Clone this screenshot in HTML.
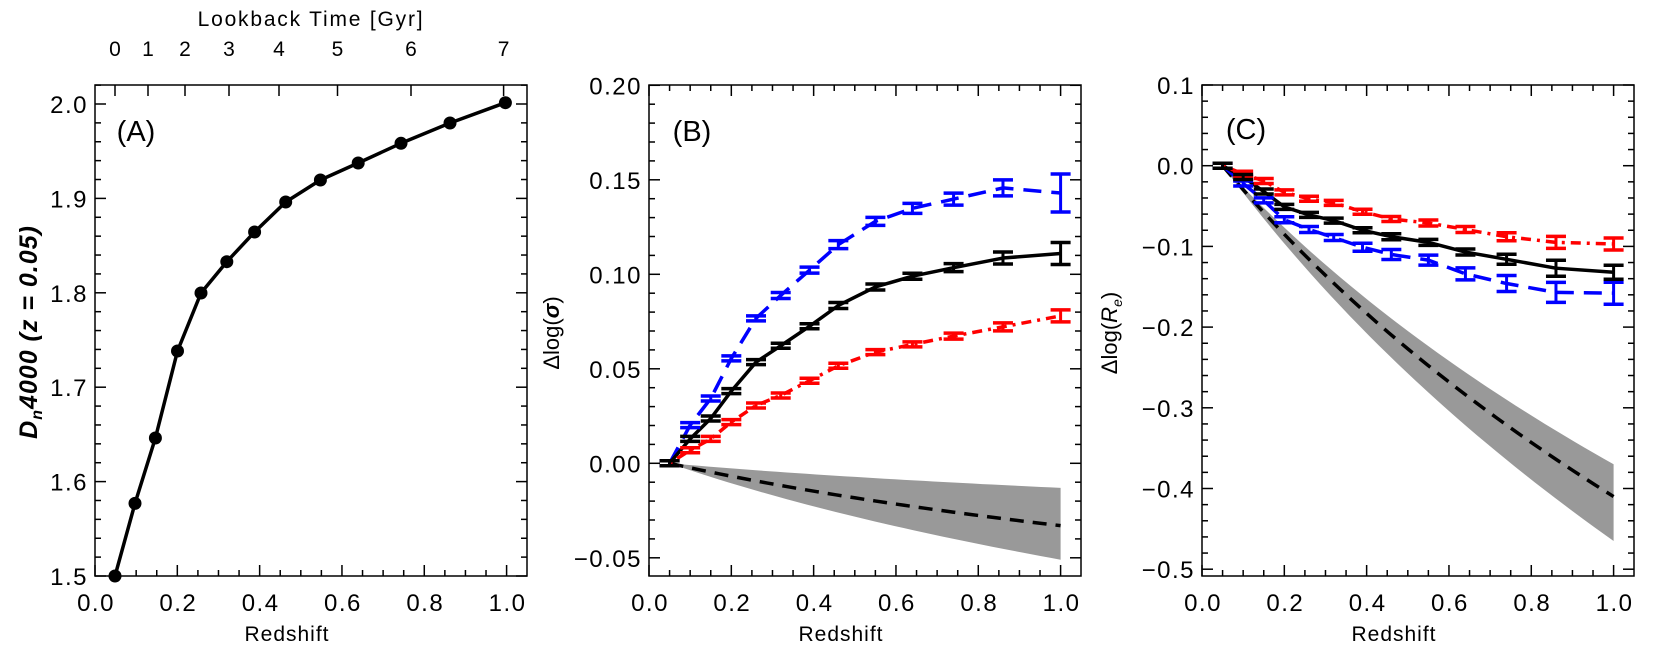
<!DOCTYPE html>
<html><head><meta charset="utf-8"><style>
html,body{margin:0;padding:0;background:#fff;}
svg{display:block;}
text{font-family:"Liberation Sans",sans-serif;fill:#000;}
</style></head><body>
<svg id="s" width="1661" height="663" viewBox="0 0 1661 663" xmlns="http://www.w3.org/2000/svg"></svg>
<script>
(function(){
const S=document.getElementById('s');let h='';
function L(x1,y1,x2,y2,c,w,extra){h+=`<line x1="${x1}" y1="${y1}" x2="${x2}" y2="${y2}" stroke="${c||'#000'}" stroke-width="${w||1.5}" ${extra||''}/>`;}
function T(x,y,t,sz,anch,extra){h+=`<text x="${x}" y="${y}" font-size="${sz}" text-anchor="${anch||'middle'}" ${extra||''}>${t}</text>`;}
const TOP=85,BOT=576;
const LS='letter-spacing="1.5"';
function frame(L0,R0,ymap,ymin,ymax,maj,minr,fmt,top2){
  h+=`<rect x="${L0}" y="${TOP}" width="${R0-L0}" height="${BOT-TOP}" fill="none" stroke="#000" stroke-width="1.5"/>`;
  const xm=z=>L0+z*411.6;
  for(let i=0;i<=21;i++){const z=i*0.05;const x=xm(z);if(x>R0)break;const mj=(i%4==0);
    L(x,BOT,x,BOT-(mj?11:6));if(!top2)L(x,TOP,x,TOP+(mj?11:6));
    if(mj)T(x+1,611,(z).toFixed(1),24,'middle',LS);}
  const k0=Math.ceil(ymin/minr-1e-6),k1=Math.floor(ymax/minr+1e-6),r=Math.round(maj/minr);
  for(let k=k0;k<=k1;k++){const v=k*minr;const y=ymap(v);if(y<TOP-0.5||y>BOT+0.5)continue;
    const mj=(((k%r)+r)%r)==0;
    L(L0,y,L0+(mj?11:6),y);L(R0,y,R0-(mj?11:6),y);
    if(mj)T(L0-7,y+9,fmt(Math.round(v/maj)*maj),24,'end',LS);}
  T((L0+R0)/2-24,641,'Redshift',21,'middle','letter-spacing="1"');
}
function poly(pts,c,w,dash){h+=`<polyline points="${pts.map(p=>p.join(',')).join(' ')}" fill="none" stroke="${c}" stroke-width="${w}" stroke-linejoin="round" ${dash?`stroke-dasharray="${dash}"`:''}/>`;}
function errs(pts,es,c){pts.forEach((p,i)=>{const e=Math.max(es[i],2.5);L(p[0],p[1]-e,p[0],p[1]+e,c,3);L(p[0]-10,p[1]-e,p[0]+10,p[1]-e,c,3.5);L(p[0]-10,p[1]+e,p[0]+10,p[1]+e,c,3.5);});}
const zs=[0.05,0.1,0.15,0.2,0.26,0.32,0.39,0.46,0.55,0.64,0.74,0.86,1.0];
// Panel A
const AL=95,AR=527;const yA=v=>104+(2.0-v)*944;
frame(AL,AR,yA,1.5,2.04,0.1,0.02,v=>v.toFixed(1),true);
const lb=[[0,115],[1,148],[2,185],[3,229],[4,279],[5,337.5],[6,411],[7,503.6]];
lb.forEach(([t,x])=>{L(x,TOP,x,TOP+11);T(x,56,t,21);});
T(311,26,'Lookback Time [Gyr]',21,'middle','letter-spacing="1.8"');
const A=[[115,576],[135,503.4],[155.4,438],[177.5,351],[201,293],[226.8,261.7],[254.6,232],[285.7,202],[320.4,180],[358.2,163],[401,143.3],[450,123],[505.4,102.7]];
poly(A,'#000',3.5);A.forEach(p=>h+=`<circle cx="${p[0]}" cy="${p[1]}" r="6.5" fill="#000"/>`);
T(136,141,'(A)',29);
h+=`<text transform="translate(37,332) rotate(-90)" font-size="25" text-anchor="middle" font-style="italic" font-weight="bold" letter-spacing="1">D<tspan font-size="16" dy="5">n</tspan><tspan dy="-5">4000 (z = 0.05)</tspan></text>`;
// Panel B
const BL=649,BR=1081;const yB=v=>463.3-v*1890;const xB=z=>BL+z*411.6;
function mfun(z){return Math.log10(1+z)-Math.log10(1.05);}
const mf1=mfun(1);
function band(xm,ym,up,lo,mid){let U=[],D=[],M=[];for(let i=0;i<=40;i++){const z=0.05+0.95*i/40;const f=mfun(z)/mf1;U.push([xm(z),ym(up*f)]);D.push([xm(z),ym(lo*f)]);M.push([xm(z),ym(mid*f)]);}
 h+=`<polygon points="${U.concat(D.reverse()).map(p=>p.join(',')).join(' ')}" fill="#999"/>`;poly(M,'#000',3.5,'14 9');}
band(xB,yB,-0.013,-0.051,-0.033);
const Bk=[0,.0129,.0237,.0382,.0535,.0622,.0725,.0835,.0933,.099,.1035,.1086,.111];
const Bb=[0,.0202,.0343,.0555,.0767,.0888,.1022,.1157,.128,.1349,.1398,.1457,.143];
const Br=[0,.0069,.0129,.0218,.0306,.0359,.0437,.0516,.0588,.0629,.0673,.0722,.078];
const P=(arr,xm,ym)=>arr.map((v,i)=>[xm(zs[i]),ym(v)]);
let pb=P(Bb,xB,yB),pk=P(Bk,xB,yB),pr=P(Br,xB,yB);
poly(pb,'#0000ff',3.5,'18 10');poly(pk,'#000',3.5);poly(pr,'#ff0000',3.5,'3 6 10 6');
errs(pr,[2,2,2,2,2,2,2,2,2,2,3,4,6],'#ff0000');
errs(pb,[2,2,2,2,2,3,3,4,4,5,6,8,19],'#0000ff');
errs(pk,[2,2,2,2,2,2,2,3,3,3,4,6,11],'#000');
frame(BL,BR,yB,-0.06,0.2,0.05,0.01,v=>(Math.abs(v)<1e-9?'0.00':(v<0?'\u22120.05':v.toFixed(2))),false);
T(692,141,'(B)',29);
h+=`<text transform="translate(559,333) rotate(-90)" font-size="22" text-anchor="middle">Δlog(<tspan font-style="italic" font-weight="bold">σ</tspan>)</text>`;
// Panel C
const CL=1202,CR=1634;const yC=v=>165.7-v*807;const xC=z=>CL+z*411.6;
band(xC,yC,-0.37,-0.465,-0.41);
const Ck=[0,-.014,-.032,-.051,-.061,-.068,-.080,-.088,-.095,-.107,-.116,-.127,-.132];
const Cr=[0,-.010,-.019,-.033,-.041,-.046,-.057,-.066,-.071,-.079,-.088,-.095,-.097];
const Cb=[0,-.022,-.043,-.067,-.079,-.089,-.101,-.110,-.117,-.134,-.146,-.157,-.158];
let qb=P(Cb,xC,yC),qk=P(Ck,xC,yC),qr=P(Cr,xC,yC);
poly(qb,'#0000ff',3.5,'18 10');poly(qk,'#000',3.5);poly(qr,'#ff0000',3.5,'3 6 10 6');
errs(qr,[2,2,2,2,2,2,2,2,3,3,4,6,6],'#ff0000');
errs(qb,[2,2,2,3,3,3,4,5,5,6,8,10,11],'#0000ff');
errs(qk,[2,2,2,2,2,2,2,3,3,3,5,8,7],'#000');
frame(CL,CR,yC,-0.51,0.1,0.1,0.02,v=>(Math.abs(v)<1e-9?'0.0':(v<0?'\u2212'+(-v).toFixed(1):v.toFixed(1))),false);
T(1246,139,'(C)',29);
h+=`<text transform="translate(1117,333) rotate(-90)" font-size="22" text-anchor="middle">Δlog(<tspan font-style="italic">R</tspan><tspan font-style="italic" font-size="14" dy="5">e</tspan><tspan dy="-5">)</tspan></text>`;
S.innerHTML=h;
})();
</script>
</body></html>
